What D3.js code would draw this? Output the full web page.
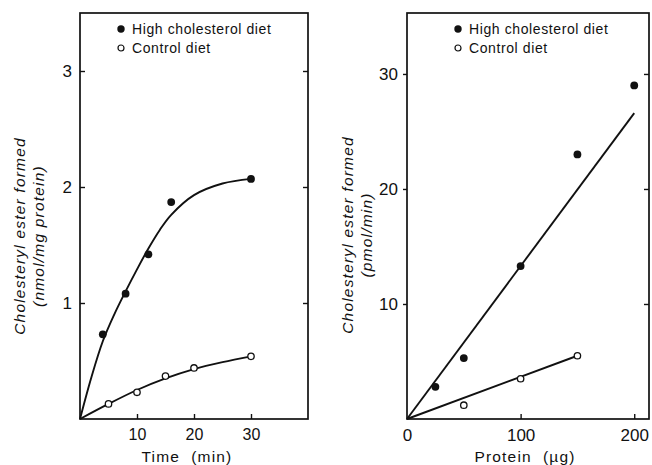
<!DOCTYPE html>
<html>
<head>
<meta charset="utf-8">
<script src="https://cdn.jsdelivr.net/npm/d3@7"></script>
<style>
body { margin: 0; background: #fff; }
svg { display: block; }
text { font-family: "Liberation Sans", Arial, sans-serif; fill: #111; white-space: pre; }
</style>
</head>
<body>
<div class="chart"></div>
<script>
// left panel: time course
var timeHigh = [4, 8, 12, 16, 30];
var valHigh = [0.73, 1.08, 1.42, 1.87, 2.07];
var timeCtrl = [5, 10, 15, 20, 30];
var valCtrl = [0.13, 0.23, 0.37, 0.44, 0.54];
// hand drawn fitted curves
var fitHighT = [0, 2, 4, 6, 8, 10, 12, 14, 16, 20, 25, 30];
var fitHighV = [0, 0.36, 0.67, 0.9, 1.1, 1.29, 1.47, 1.63, 1.76, 1.93, 2.03, 2.07];
var fitCtrlT = [0, 5, 10, 15, 20, 25, 30];
var fitCtrlV = [0, 0.13, 0.25, 0.35, 0.43, 0.49, 0.54];
var timeTicks = [10, 20, 30];
var nmolTicks = [1, 2, 3];

// right panel: protein dependence
var protHigh = [25, 50, 100, 150, 200];
var pmolHigh = [2.8, 5.3, 13.3, 23.0, 29.0];
var protCtrl = [50, 100, 150];
var pmolCtrl = [1.2, 3.5, 5.5];
var lineHighP = [0, 200];
var lineHighV = [0, 26.6];
var lineCtrlP = [0, 150];
var lineCtrlV = [0, 5.5];
var protTicks = [0, 100, 200];
var pmolTicks = [10, 20, 30];

var legendLabels = ['High cholesterol diet', 'Control diet'];

var width = 652, height = 465;
const svg = d3.select('.chart').append('svg')
    .attr('width', width).attr('height', height)
    .attr('viewBox', '0 0 ' + width + ' ' + height);

var top_y = 13, bot_y = 419;

function zip(a, b) { return a.map(function(v, i) { return [v, b[i]]; }); }

function panel(opt) {
    var x = d3.scaleLinear().domain(opt.xDomain).range(opt.xRange);
    var y = d3.scaleLinear().domain(opt.yDomain).range([bot_y, top_y]);
    var g = svg.append('g');

    // frame
    g.append('rect')
        .attr('x', opt.xRange[0]).attr('y', top_y)
        .attr('width', opt.xRange[1] - opt.xRange[0])
        .attr('height', bot_y - top_y)
        .attr('fill', 'none')
        .attr('stroke', '#111')
        .attr('stroke-width', 1.7);

    // left axis
    var left = g.append('g').attr('transform', 'translate(' + opt.xRange[0] + ',0)')
        .call(d3.axisLeft(y).tickValues(opt.yTicks).tickSize(opt.yTickOut ? 4 : -5).tickPadding(opt.yTickOut ? 5 : 8).tickFormat(d3.format('d')));
    left.select('.domain').remove();
    left.selectAll('text').style('font-size', '17px').style('font-family', '"Liberation Sans", Arial, sans-serif').attr('fill', '#111');
    left.selectAll('line').attr('stroke', '#111').attr('stroke-width', 1.4);

    // right side ticks
    var right = g.append('g').attr('transform', 'translate(' + opt.xRange[1] + ',0)')
        .call(d3.axisRight(y).tickValues(opt.yTicks).tickSize(-5).tickFormat(''));
    right.select('.domain').remove();
    right.selectAll('line').attr('stroke', '#111').attr('stroke-width', 1.4);

    // bottom axis
    var bottom = g.append('g').attr('transform', 'translate(0,' + bot_y + ')')
        .call(d3.axisBottom(x).tickValues(opt.xTicks).tickSize(-5).tickPadding(10).tickFormat(d3.format('d')));
    bottom.select('.domain').remove();
    bottom.selectAll('text').style('font-size', opt.xTickSize).style('font-family', '"Liberation Sans", Arial, sans-serif').attr('fill', '#111');
    bottom.selectAll('line').attr('stroke', '#111').attr('stroke-width', 1.4);
    // tick at zero sits on the frame, no mark needed
    bottom.selectAll('.tick').filter(function(d) { return d === 0; }).select('line').remove();

    // x title
    g.append('text')
        .attr('x', opt.xTitleX).attr('y', 462)
        .attr('text-anchor', 'middle')
        .style('font-size', '15.5px')
        .style('letter-spacing', '1.2px')
        .text(opt.xTitle);

    // y titles (italic, rotated)
    var yt = g.append('text')
        .attr('transform', 'translate(' + opt.yTitleX + ',' + opt.yTitleY + ') rotate(-90)')
        .attr('text-anchor', 'middle')
        .style('font-size', '15.5px')
        .style('font-style', 'italic')
        .style('letter-spacing', '1.2px');
    yt.append('tspan').attr('x', 0).attr('dy', 0).text('Cholesteryl ester formed');
    yt.append('tspan').attr('x', 0).attr('dy', '1.25em').text(opt.yUnit);

    var line = d3.line().x(function(d) { return x(d[0]); }).y(function(d) { return y(d[1]); }).curve(opt.curve);

    opt.fits.forEach(function(f) {
        g.append('path')
            .attr('d', line(f))
            .attr('fill', 'none')
            .attr('stroke', '#111')
            .attr('stroke-width', 1.9);
    });

    g.append('g').selectAll('circle')
        .data(opt.open)
        .join('circle')
            .attr('cx', function(d) { return x(d[0]); })
            .attr('cy', function(d) { return y(d[1]); })
            .attr('r', 3.2)
            .attr('fill', '#fff')
            .attr('stroke', '#111')
            .attr('stroke-width', 1.3);

    g.append('g').selectAll('circle')
        .data(opt.filled)
        .join('circle')
            .attr('cx', function(d) { return x(d[0]); })
            .attr('cy', function(d) { return y(d[1]); })
            .attr('r', 3.9)
            .attr('fill', '#111');

    // legend
    var lg = g.append('g').attr('transform', 'translate(' + opt.legendX + ',0)');
    lg.append('circle').attr('cx', 0).attr('cy', 29).attr('r', 3.7).attr('fill', '#111');
    lg.append('circle').attr('cx', 0).attr('cy', 48).attr('r', 3).attr('fill', '#fff').attr('stroke', '#111').attr('stroke-width', 1.2);
    legendLabels.forEach(function(t, i) {
        lg.append('text')
            .attr('x', 11).attr('y', 34 + i * 19)
            .style('font-size', '14px')
            .style('letter-spacing', '0.6px')
            .text(t);
    });
}

panel({
    xDomain: [0, 40], xRange: [80, 308],
    yDomain: [0, 3.5],
    xTicks: timeTicks, yTicks: nmolTicks, yTickOut: false,
    xTickSize: '16px',
    xTitle: 'Time  (min)', xTitleX: 187,
    yUnit: '(nmol/mg protein)', yTitleX: 25, yTitleY: 236,
    curve: d3.curveCatmullRom,
    fits: [zip(fitHighT, fitHighV), zip(fitCtrlT, fitCtrlV)],
    filled: zip(timeHigh, valHigh),
    open: zip(timeCtrl, valCtrl),
    legendX: 121
});

panel({
    xDomain: [0, 213], xRange: [407, 649],
    yDomain: [0, 35.3],
    xTicks: protTicks, yTicks: pmolTicks, yTickOut: true,
    xTickSize: '17px',
    xTitle: 'Protein  (\u00b5g)', xTitleX: 525,
    yUnit: '(pmol/min)', yTitleX: 353, yTitleY: 235,
    curve: d3.curveLinear,
    fits: [zip(lineHighP, lineHighV), zip(lineCtrlP, lineCtrlV)],
    filled: zip(protHigh, pmolHigh),
    open: zip(protCtrl, pmolCtrl),
    legendX: 458
});
</script>
</body>
</html>
